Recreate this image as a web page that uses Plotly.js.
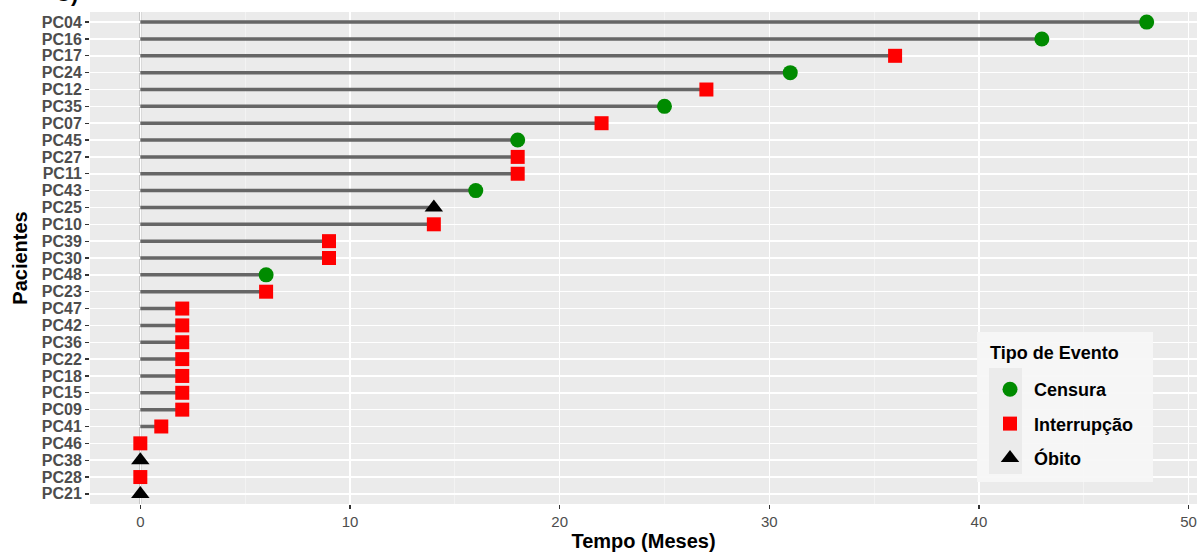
<!DOCTYPE html>
<html>
<head>
<meta charset="utf-8">
<script src="https://cdn.plot.ly/plotly-3.0.1.min.js"></script>
<style>html,body{margin:0;padding:0;background:#fff;}#chart{width:1201px;height:556px;}</style>
</head>
<body>
<div id="chart"></div>
<script>
// Patients listed top to bottom
const patients = ["PC04","PC16","PC17","PC24","PC12","PC35","PC07","PC45","PC27","PC11","PC43","PC25","PC10","PC39","PC30","PC48","PC23","PC47","PC42","PC36","PC22","PC18","PC15","PC09","PC41","PC46","PC38","PC28","PC21"];
const times = [48,43,36,31,27,25,22,18,18,18,16,14,14,9,9,6,6,2,2,2,2,2,2,2,1,0,0,0,0];
const events = ["Censura","Censura","Interrupção","Censura","Interrupção","Censura","Interrupção","Censura","Interrupção","Interrupção","Censura","Óbito","Interrupção","Interrupção","Interrupção","Censura","Interrupção","Interrupção","Interrupção","Interrupção","Interrupção","Interrupção","Interrupção","Interrupção","Interrupção","Interrupção","Óbito","Interrupção","Óbito"];
const eventTypes = ["Censura","Interrupção","Óbito"];
const xTicks = [0,10,20,30,40,50];
const legendTitle = "Tipo de Evento";

const eventStyle = {
  "Censura": {color:"#008B00", symbol:"circle", size:15},
  "Interrupção": {color:"#FF0000", symbol:"square", size:14},
  "Óbito": {color:"#000000", symbol:"triangle-up", size:16}
};

const segX = [], segY = [];
patients.forEach((p,i)=>{ segX.push(0, times[i], null); segY.push(p, p, null); });

const traces = [{
  type:"scatter", mode:"lines", x:segX, y:segY,
  line:{color:"#666666", width:3.5}, showlegend:false, hoverinfo:"skip"
}];
eventTypes.forEach(ev=>{
  const xs=[], ys=[];
  patients.forEach((p,i)=>{ if(events[i]===ev){ xs.push(times[i]); ys.push(p);} });
  const s = eventStyle[ev];
  traces.push({
    type:"scatter", mode:"markers", name:ev, x:xs, y:ys, legendgroup:ev,
    marker:{color:s.color, symbol:s.symbol, size:s.size, line:{width:0}}
  });
});

const layout = {
  width:1201, height:556,
  margin:{l:90, r:4, t:12, b:52},
  paper_bgcolor:"#ffffff", plot_bgcolor:"#EBEBEB",
  font:{family:"Liberation Sans, Arial, sans-serif", color:"#4D4D4D"},
  xaxis:{
    range:[-2.4, 50.4], tickmode:"array", tickvals:xTicks, ticktext:xTicks.map(String),
    showgrid:true, gridcolor:"#FFFFFF", gridwidth:1.5, zeroline:false,
    minor:{dtick:5, tick0:0, showgrid:true, gridcolor:"#F7F7F7", gridwidth:0.7},
    ticks:"outside", ticklen:4, tickwidth:1.3, tickcolor:"#333333",
    tickfont:{size:15, color:"#4D4D4D"},
    title:{text:"<b>Tempo (Meses)</b>", font:{size:20, color:"#000000"}, standoff:4},
    showline:false
  },
  yaxis:{
    type:"category", categoryorder:"array", categoryarray:patients.slice().reverse(),
    tickmode:"array", tickvals:patients, ticktext:patients,
    range:[-0.6, 28.6],
    showgrid:true, gridcolor:"#FFFFFF", gridwidth:1.5, zeroline:false,
    ticks:"outside", ticklen:4, tickwidth:1.3, tickcolor:"#333333",
    tickfont:{size:16, color:"#4D4D4D", weight:"bold"},
    title:{text:"<b>Pacientes</b>", font:{size:20, color:"#000000"}, standoff:8},
    showline:false
  },
  shapes:[
    {type:"line", xref:"x", yref:"paper", x0:0, x1:0, y0:0, y1:1, layer:"between",
     line:{color:"#B3B3B3", width:2}},
    {type:"rect", xref:"paper", yref:"paper",
     x0:(977-90)/1107, x1:(1153-90)/1107, y0:(504-482)/492, y1:(504-332)/492,
     fillcolor:"rgba(247,247,247,0.95)", line:{width:0}, layer:"above"},
    {type:"rect", xref:"paper", yref:"paper",
     x0:(989-90)/1107, x1:(1022-90)/1107, y0:(504-474)/492, y1:(504-368)/492,
     fillcolor:"#EBEBEB", line:{width:0}, layer:"above"}
  ],
  legend:{
    x:(986-90)/1107, y:(504-371)/492, xanchor:"left", yanchor:"top",
    bgcolor:"rgba(0,0,0,0)", borderwidth:0,
    font:{size:18, color:"#000000", weight:"bold"},
    tracegroupgap:8, itemwidth:38
  },
  annotations:[
    {text:"<b>"+legendTitle+"</b>", xref:"paper", yref:"paper", x:(988-90)/1107, y:(504-353)/492,
     xanchor:"left", yanchor:"middle", showarrow:false, font:{size:18, color:"#000000"}},
    {text:"<b>C)</b>", xref:"paper", yref:"paper", x:(80-90)/1107, y:1+(12-8)/492,
     xanchor:"right", yanchor:"bottom", showarrow:false, font:{size:22, color:"#000000"}}
  ]
};

Plotly.newPlot("chart", traces, layout, {displayModeBar:false, staticPlot:true});
</script>
</body>
</html>
